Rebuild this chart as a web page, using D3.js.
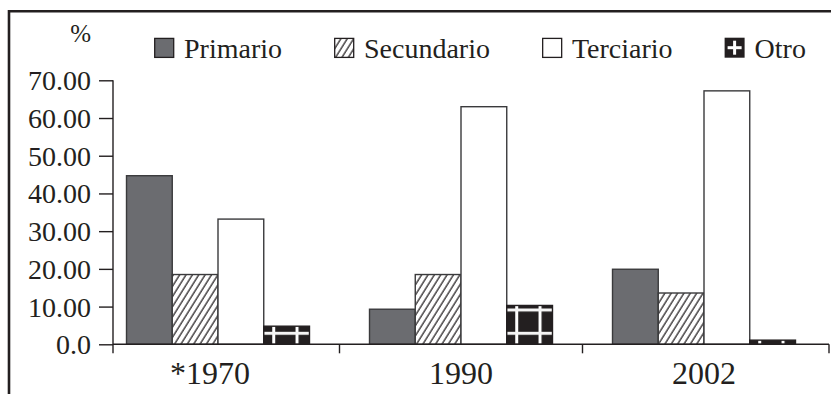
<!DOCTYPE html>
<html><head><meta charset="utf-8">
<script src="https://cdn.jsdelivr.net/npm/d3@7"></script>
<style>
html,body{margin:0;padding:0;background:#fff;}
svg{display:block;font-family:"Liberation Serif","Times New Roman",serif;}
</style></head>
<body>
<svg id="chart" width="831" height="394"></svg>
<script>
const categories = ["*1970", "1990", "2002"];
const seriesNames = ["Primario", "Secundario", "Terciario", "Otro"];
const primario = [44.7, 9.3, 19.9];
const secundario = [18.5, 18.5, 13.6];
const terciario = [33.2, 63.0, 67.2];
const otro = [4.8, 10.3, 1.1];
const yTickValues = [0, 10, 20, 30, 40, 50, 60, 70];
const yTickLabels = ["0.0", "10.00", "20.00", "30.00", "40.00", "50.00", "60.00", "70.00"];
const unitLabel = "%";

const seriesValues = [primario, secundario, terciario, otro];
const ink = "#231f20";
const W = 831, H = 394;
const svg = d3.select("#chart");
const defs = svg.append("defs");

// layout
const plotLeft = 113, plotRight = 829, plotTop = 80.3, plotBottom = 344.3;
const y = d3.scaleLinear().domain([0, 70]).range([plotBottom, plotTop]);
const x0 = d3.scaleBand().domain(categories).range([96.5, 825.5]).paddingInner(0).paddingOuter(0);
const groupW = x0.bandwidth() * 0.753;
const x1 = d3.scaleBand().domain(seriesNames).range([0, groupW]).padding(0);

// frame
svg.append("path").attr("d", `M9,${H + 5} L9,11.2 L${W + 5},11.2`)
  .attr("fill", "none").attr("stroke", ink).attr("stroke-width", 2.6);

// hatch pattern
const hatch = defs.append("pattern").attr("id", "hatch").attr("patternUnits", "userSpaceOnUse")
  .attr("width", 5.4).attr("height", 5.4).attr("patternTransform", "rotate(32)");
hatch.append("rect").attr("width", 5.4).attr("height", 5.4).attr("fill", "#fff");
hatch.append("line").attr("x1", 1).attr("y1", 0).attr("x2", 1).attr("y2", 5.4)
  .attr("stroke", ink).attr("stroke-width", 1.25);

function gridPattern(id, px, py) {
  const p = 23.3;
  const pat = defs.append("pattern").attr("id", id).attr("patternUnits", "userSpaceOnUse")
    .attr("x", px).attr("y", py).attr("width", p).attr("height", p);
  pat.append("rect").attr("width", p).attr("height", p).attr("fill", ink);
  pat.append("rect").attr("x", 0).attr("y", 0).attr("width", 3).attr("height", p).attr("fill", "#fff");
  pat.append("rect").attr("x", 0).attr("y", 0).attr("width", p).attr("height", 3).attr("fill", "#f4f4f4");
  return `url(#${id})`;
}

function fillFor(si, ci, bx) {
  if (si === 0) return "#6b6c70";
  if (si === 1) return "url(#hatch)";
  if (si === 2) return "#ffffff";
  return gridPattern("grid" + ci, bx + 10 - 1.5, plotBottom - 11 - 1.5);
}

// bars
categories.forEach((c, ci) => {
  const gx = x0(c) + (x0.bandwidth() - groupW) / 2;
  seriesNames.forEach((s, si) => {
    const v = seriesValues[si][ci];
    const bx = gx + x1(s);
    svg.append("rect")
      .attr("x", bx).attr("y", y(v))
      .attr("width", x1.bandwidth()).attr("height", y(0) - y(v))
      .attr("fill", fillFor(si, ci, bx))
      .attr("stroke", si === 3 ? ink : "#3a3a3c").attr("stroke-width", 1.4);
  });
});

// y axis
const yAxis = d3.axisLeft(y).tickValues(yTickValues).tickSize(14).tickPadding(8)
  .tickFormat((d, i) => yTickLabels[i]);
const gy = svg.append("g").attr("transform", `translate(${plotLeft},0)`).call(yAxis);
gy.select(".domain").attr("d", `M0,${plotTop}V${plotBottom}`).attr("stroke", ink).attr("stroke-width", 1.4);
gy.selectAll(".tick line").attr("stroke", ink).attr("stroke-width", 1.4);
gy.selectAll(".tick text").attr("font-family", "Liberation Serif").attr("font-size", 28)
  .attr("fill", ink).attr("dy", "0.34em");

// x axis
svg.append("line").attr("x1", plotLeft).attr("x2", plotRight).attr("y1", plotBottom).attr("y2", plotBottom)
  .attr("stroke", ink).attr("stroke-width", 1.4);
const boundaries = [plotLeft].concat(categories.slice(0, -1).map(c => x0(c) + x0.step())).concat([plotRight]);
svg.selectAll(".xtick").data(boundaries).enter().append("line")
  .attr("x1", d => d).attr("x2", d => d).attr("y1", plotBottom).attr("y2", plotBottom + 9)
  .attr("stroke", ink).attr("stroke-width", 1.4);

categories.forEach(c => {
  const t = svg.append("text").attr("x", x0(c) + x0.bandwidth() / 2).attr("y", 384)
    .attr("text-anchor", "middle").attr("font-size", 32).attr("fill", ink).text(c);
  if (c.startsWith("*")) {
    const tmp = svg.append("text").attr("font-size", 32).text("*");
    const w = tmp.node().getComputedTextLength();
    tmp.remove();
    t.attr("dx", -w / 2);
  }
});

// unit label
svg.append("text").attr("x", 91).attr("y", 42).attr("text-anchor", "end")
  .attr("font-size", 25).attr("fill", ink).text(unitLabel);

// legend
let lx = 154;
seriesNames.forEach((s, si) => {
  const g = svg.append("g").attr("transform", `translate(${lx},37.7)`);
  if (si === 3) {
    g.append("rect").attr("width", 20).attr("height", 20).attr("fill", ink);
    g.append("rect").attr("x", 8.5).attr("y", 3).attr("width", 3).attr("height", 14).attr("fill", "#fff");
    g.append("rect").attr("x", 3).attr("y", 8.5).attr("width", 14).attr("height", 3).attr("fill", "#fff");
  } else {
    g.append("rect").attr("x", 0.7).attr("y", 0.7).attr("width", 19).attr("height", 19)
      .attr("fill", si === 0 ? "#6b6c70" : si === 1 ? "url(#hatch)" : "#fff")
      .attr("stroke", ink).attr("stroke-width", 1.3);
  }
  const t = g.append("text").attr("x", 30).attr("y", 20.5).attr("font-size", 28).attr("fill", ink).text(s);
  lx += 30 + t.node().getComputedTextLength() + 52;
});
</script>
</body></html>
